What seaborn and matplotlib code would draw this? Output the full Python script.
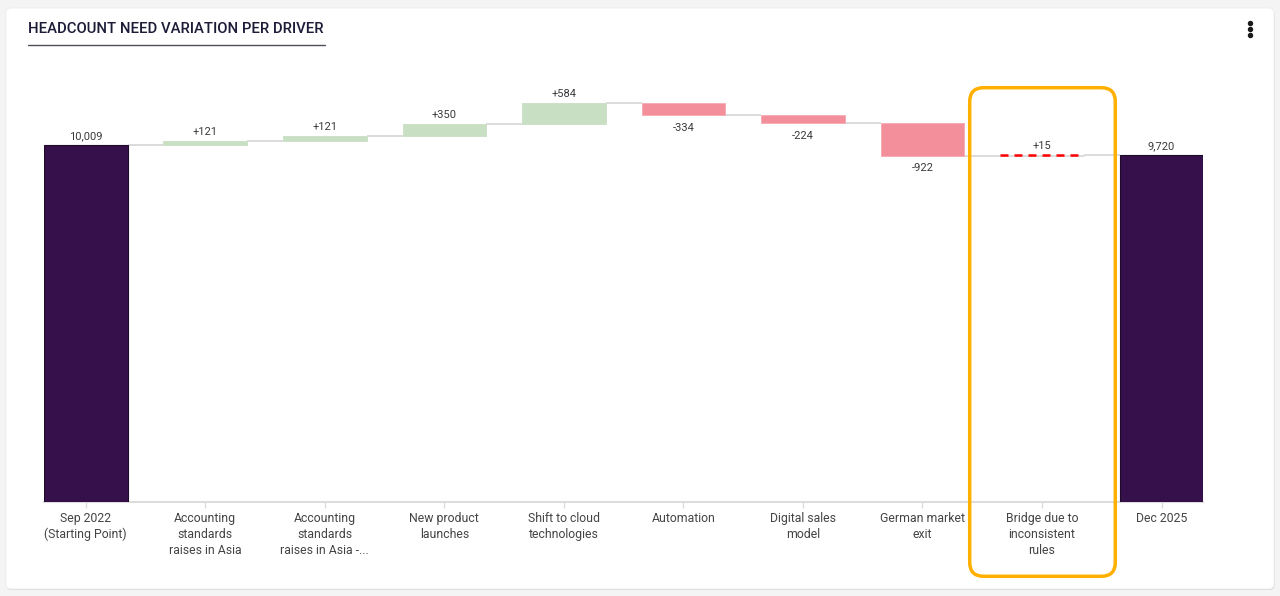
import matplotlib
matplotlib.use("Agg")
import matplotlib.pyplot as plt
import seaborn as sns
import numpy as np
from matplotlib.patches import FancyBboxPatch

# data
categories = [
    "Sep 2022\n(Starting Point)",
    "Accounting\nstandards\nraises in Asia",
    "Accounting\nstandards\nraises in Asia -...",
    "New product\nlaunches",
    "Shift to cloud\ntechnologies",
    "Automation",
    "Digital sales\nmodel",
    "German market\nexit",
    "Bridge due to\ninconsistent\nrules",
    "Dec 2025",
]
start_value = 10009
deltas = [121, 121, 350, 584, -334, -224, -922, 15]
end_value = 9720
kinds = ["total"] + ["delta"] * 7 + ["bridge"] + ["total"]

# waterfall geometry from the values
running = np.cumsum([start_value] + deltas)
bottoms = [0] + list(running[:-1]) + [0]
heights = [start_value] + deltas + [end_value]
levels = list(running) + [end_value]

PURPLE = "#36104a"
GREEN = "#c8dfc4"
RED = "#f28f9b"
GRID = "#d6d6d6"

sns.set_theme(style="white")
plt.rcParams["font.family"] = ["Roboto", "DejaVu Sans"]

fig = plt.figure(figsize=(12.8, 5.96), dpi=100, facecolor="#f4f4f4")

# card background (pixel coordinates)
bg = fig.add_axes([0, 0, 1, 1], zorder=-5)
bg.set_xlim(0, 1280)
bg.set_ylim(596, 0)
bg.axis("off")
bg.add_patch(FancyBboxPatch((6.5, 9), 1268, 581, boxstyle="round,pad=0,rounding_size=5",
                            facecolor="#d9d9d9", edgecolor="none"))
bg.add_patch(FancyBboxPatch((6, 8), 1268, 581, boxstyle="round,pad=0,rounding_size=5",
                            facecolor="white", edgecolor="#ececec", linewidth=0.6))
bg.text(28, 29, "HEADCOUNT NEED VARIATION PER DRIVER", ha="left", va="center",
        fontsize=10.7, color="#1d1c38", fontweight="medium")
bg.plot([28, 325], [45, 45], color="#4d4d5a", lw=1.0)

# main chart
ax = fig.add_axes([43.9 / 1280, 94 / 596, 1159.5 / 1280, 428 / 596])
ax.set_facecolor("none")
sns.barplot(x=categories, y=heights, bottom=bottoms, width=0.7, color=PURPLE,
            ax=ax, zorder=3)

patches = ax.patches
for p, kind, h in zip(patches, kinds, heights):
    if kind == "total":
        p.set_facecolor(PURPLE)
        p.set_edgecolor("#1c0a28")
        p.set_linewidth(0.8)
    elif kind == "bridge":
        p.set_facecolor("none")
        p.set_edgecolor("none")
    else:
        p.set_facecolor(GREEN if h > 0 else RED)
        p.set_edgecolor("#f5a9b2" if h < 0 else GREEN)
        p.set_linewidth(0.6)

# connectors between bars
for i in range(len(patches) - 1):
    x0 = patches[i].get_x() + patches[i].get_width()
    x1 = patches[i + 1].get_x()
    ax.plot([x0, x1], [levels[i], levels[i]], color=GRID, lw=1.2, zorder=2,
            solid_capstyle="butt")

# bridge: dashed red line at its level, over a grey connector
bi = kinds.index("bridge")
bp = patches[bi]
ax.plot([bp.get_x(), bp.get_x() + bp.get_width()], [levels[bi - 1], levels[bi - 1]],
        color=GRID, lw=1.2, zorder=2)
ax.plot([bp.get_x(), bp.get_x() + bp.get_width()], [levels[bi], levels[bi]],
        color="#ff0000", lw=1.8, ls=(0, (3.2, 2.4)), zorder=4, solid_capstyle="butt")

# value labels
for p, kind, h, b in zip(patches, kinds, heights, bottoms):
    xc = p.get_x() + p.get_width() / 2
    if kind == "total":
        txt, y, off, va = f"{h:,}", b + h, 3, "bottom"
    elif h >= 0:
        txt, y, off, va = f"+{h:,}", b + h, 3, "bottom"
    else:
        txt, y, off, va = f"{h:,}", b + h, -5.5, "top"
    ax.annotate(txt, xy=(xc, y), xytext=(0, off), textcoords="offset points",
                ha="center", va=va, fontsize=8, color="#3a3a3a", zorder=5)

ax.set_xlim(-0.35, len(categories) - 0.65)
ax.set_ylim(0, 12000)
ax.set_yticks([])
ax.set_ylabel("")
for s in ["top", "right", "left"]:
    ax.spines[s].set_visible(False)
ax.spines["bottom"].set_color("#dcdcdc")
ax.spines["bottom"].set_linewidth(1.5)
ax.tick_params(axis="x", bottom=True, length=4.5, width=1, color="#dcdcdc",
               pad=2.5, labelsize=8.8, labelcolor="#444444")
for lbl in ax.get_xticklabels():
    lbl.set_linespacing(1.3)
    lbl.set_ha("center")

# overlay: highlight box and menu dots
ov = fig.add_axes([0, 0, 1, 1], zorder=10)
ov.set_xlim(0, 1280)
ov.set_ylim(596, 0)
ov.axis("off")
ov.patch.set_alpha(0)
ov.add_patch(FancyBboxPatch((969.7, 87.7), 145.6, 488.6,
                            boxstyle="round,pad=0,rounding_size=14",
                            facecolor="none", edgecolor="#ffb000", linewidth=2.5))
ov.plot([1249.5] * 3, [22.7, 29, 35.2], "o", color="#1a1a1a", markersize=2.9)

fig.savefig("out.png", dpi=100, facecolor=fig.get_facecolor())
